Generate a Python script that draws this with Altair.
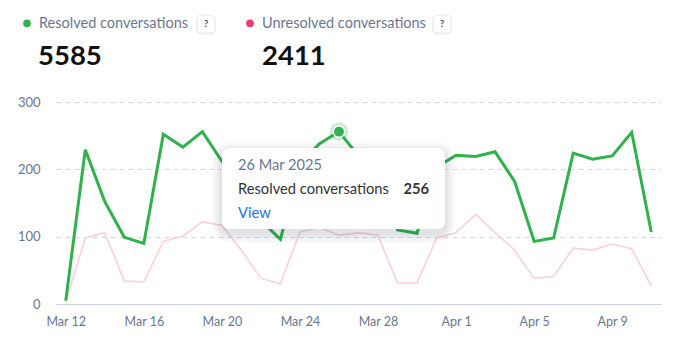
import altair as alt
import pandas as pd

# ---- data ----
dates = [d.strftime("%Y-%m-%d") for d in pd.date_range("2025-03-12", "2025-04-11", freq="D")]
resolved = [5, 229, 152, 99, 90, 252, 233, 256, 212, 200, 124, 96, 208, 238, 256,
            220, 215, 110, 105, 203, 221, 219, 226, 182, 93, 98, 224, 215, 220, 255, 107]
unresolved = [3, 98, 106, 34, 33, 93, 101, 122, 117, 80, 38, 30, 107, 114, 102,
              106, 102, 31, 31, 98, 106, 133, 106, 80, 38, 41, 83, 80, 89, 82, 27]
series_names = ["Resolved conversations", "Unresolved conversations"]
totals = ["5585", "2411"]
tick_dates = ["2025-03-12", "2025-03-16", "2025-03-20", "2025-03-24",
              "2025-03-28", "2025-04-01", "2025-04-05", "2025-04-09"]
y_ticks = [0, 100, 200, 300]
hover_date = "2025-03-26"
hover_label = "26 Mar 2025"
hover_value = "256"

GREEN = "#2fb14c"
PINK_LINE = "#f9d0db"
PINK_DOT = "#ef3b6e"
SLATE = "#6b7690"
FONT = "Lato"

def ms(s):
    return int(pd.Timestamp(s, tz="UTC").timestamp() * 1000)

df = pd.DataFrame({"date": dates, "resolved": resolved, "unresolved": unresolved})

W, H = 605, 202
xscale = alt.Scale(type="utc", domain=[ms("2025-03-11 12:00"), ms("2025-04-11 12:00")])
yscale = alt.Scale(domain=[0, 300], nice=False)

xaxis = alt.Axis(values=[ms(t) for t in tick_dates],
                 labelExpr="utcFormat(datum.value, '%b %-d')",
                 title=None, ticks=False, grid=False, domain=True,
                 domainColor="#c8d3e6", domainWidth=1.2,
                 labelColor=SLATE, labelFontSize=12.5, labelFont=FONT,
                 labelPadding=11)
yaxis = alt.Axis(values=y_ticks, title=None, ticks=False, domain=False,
                 grid=True, gridColor="#d3dae5", gridDash=[5, 4], gridWidth=1,
                 labelColor=SLATE, labelFontSize=13, labelFont=FONT, labelPadding=16)

base = alt.Chart(df)

pink = base.mark_line(color=PINK_LINE, strokeWidth=1.6).encode(
    x=alt.X("date:T", scale=xscale, axis=xaxis),
    y=alt.Y("unresolved:Q", scale=yscale, axis=yaxis),
)
green = base.mark_line(color=GREEN, strokeWidth=3, strokeJoin="miter").encode(
    x=alt.X("date:T", scale=xscale),
    y=alt.Y("resolved:Q", scale=yscale),
)

hover_df = df[df["date"] == hover_date]
halo = alt.Chart(hover_df).mark_circle(color=GREEN, opacity=0.25, size=340).encode(
    x=alt.X("date:T", scale=xscale), y=alt.Y("resolved:Q", scale=yscale))
dot = alt.Chart(hover_df).mark_point(filled=True, fill=GREEN, stroke="white",
                                     strokeWidth=1.5, opacity=1, size=130).encode(
    x=alt.X("date:T", scale=xscale), y=alt.Y("resolved:Q", scale=yscale))


def rect(x1, x2, y1, y2, **kw):
    return alt.Chart(pd.DataFrame({"a": [0]})).mark_rect(**kw).encode(
        x=alt.value(x1), x2=alt.value(x2), y=alt.value(y1), y2=alt.value(y2))


def text(t, x, y, baseline="alphabetic", **kw):
    return alt.Chart(pd.DataFrame({"t": [t]})).mark_text(baseline=baseline, **kw).encode(
        text="t:N", x=alt.value(x), y=alt.value(y))


# tooltip box (with soft shadow)
tip_layers = []
for i, op in enumerate([0.025, 0.03, 0.035, 0.04]):
    g = 10 - i * 2.5
    tip_layers.append(rect(166 - g, 389 + g, 46 - g + 4, 127 + g + 4,
                           color="#1f2a44", opacity=op, cornerRadius=8 + g))
tip_layers.append(rect(166, 389, 46, 127, color="white", cornerRadius=7))
tip_layers += [
    text(hover_label, 182, 68, align="left", font=FONT, fontSize=14.6, color=SLATE),
    text(series_names[0], 182, 92, align="left", font=FONT, fontSize=14.7, color="#333333"),
    text(hover_value, 373, 92, align="right", font=FONT, fontSize=14.7, fontWeight="bold", color="#333333"),
    text("View", 182, 116, align="left", font=FONT, fontSize=14.7, color="#1a73e8"),
]

# header (legend + totals)
def qbox(x):
    return [
        rect(x - 1, x + 19, -86, -67, color="#1f2a44", opacity=0.05, cornerRadius=5),
        rect(x, x + 18, -87, -69, color="white", stroke="#e3e7ee", strokeWidth=1, cornerRadius=4),
        text("?", x + 9, -78, baseline="middle", align="center", font=FONT, fontSize=10,
             fontWeight="bold", color="#4a5368"),
    ]

dots_df = pd.DataFrame({"name": series_names, "px": [-29, 194], "col": [GREEN, PINK_DOT]})
legend_dots = alt.Chart(dots_df).mark_circle(size=60, opacity=1).encode(
    x=alt.X("px:Q", scale=None), y=alt.value(-78.7), color=alt.Color("col:N", scale=None))

header = [legend_dots,
          text(series_names[0], -17, -73.7, align="left", font=FONT, fontSize=14.5, color=SLATE),
          text(series_names[1], 206, -73.7, align="left", font=FONT, fontSize=14.5, color=SLATE),
          text(totals[0], -18, -37, align="left", font=FONT, fontSize=27.5, fontWeight="bold", color="#111111"),
          text(totals[1], 206, -37, align="left", font=FONT, fontSize=27.5, fontWeight="bold", color="#111111"),
          ] + qbox(141) + qbox(377)

chart = alt.layer(pink, green, *tip_layers, halo, dot, *header).properties(
    width=W, height=H,
    autosize=alt.AutoSizeParams(type="none"),
    padding={"left": 56, "top": 102, "right": 34, "bottom": 48},
    background="white",
).configure_view(stroke=None)

chart.save("out.html", embed_options={"renderer": "svg", "actions": False})
